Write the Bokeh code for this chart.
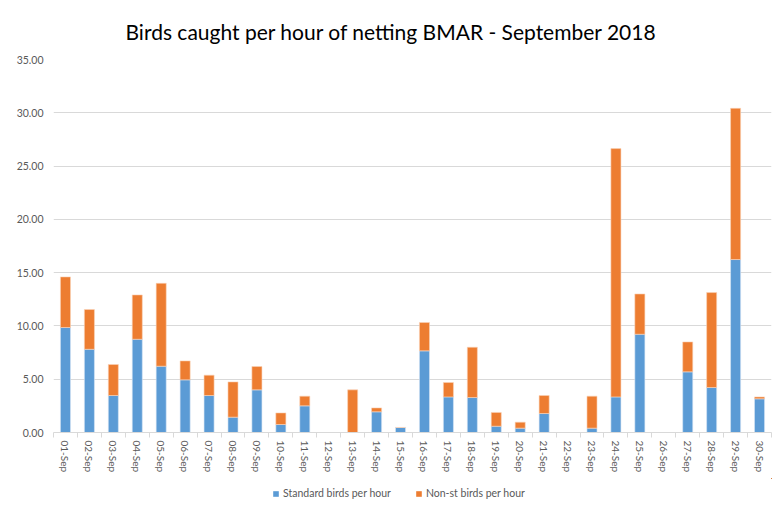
from bokeh.plotting import figure
from bokeh.layouts import column
from bokeh.models import (ColumnDataSource, FixedTicker, NumeralTickFormatter,
                          Legend, LegendItem, Range1d)
from bokeh.embed import file_html
from bokeh.resources import INLINE

days = ["01-Sep", "02-Sep", "03-Sep", "04-Sep", "05-Sep", "06-Sep", "07-Sep",
        "08-Sep", "09-Sep", "10-Sep", "11-Sep", "12-Sep", "13-Sep", "14-Sep",
        "15-Sep", "16-Sep", "17-Sep", "18-Sep", "19-Sep", "20-Sep", "21-Sep",
        "22-Sep", "23-Sep", "24-Sep", "25-Sep", "26-Sep", "27-Sep", "28-Sep",
        "29-Sep", "30-Sep"]
standard = [9.85, 7.81, 3.47, 8.75, 6.22, 4.94, 3.47, 1.44, 4.00, 0.75,
            2.50, 0.00, 0.00, 1.94, 0.47, 7.66, 3.34, 3.28, 0.59, 0.41,
            1.78, 0.00, 0.41, 3.34, 9.22, 0.00, 5.69, 4.22, 16.23, 3.16]
totals = [14.60, 11.54, 6.38, 12.91, 14.00, 6.72, 5.38, 4.75, 6.19, 1.84,
          3.41, 0.00, 4.00, 2.31, 0.47, 10.32, 4.69, 8.00, 1.88, 0.97,
          3.47, 0.00, 3.41, 26.64, 13.00, 0.00, 8.50, 13.13, 30.42, 3.34]
nonstandard = [round(t - s, 2) for t, s in zip(totals, standard)]
y_ticks = [0, 5, 10, 15, 20, 25, 30, 35]
series_names = ["Standard birds per hour", "Non-st birds per hour"]

BLUE = "#5B9BD5"
ORANGE = "#ED7D31"
GRID = "#D9D9D9"
TXT = "#595959"

pos = list(range(1, len(days) + 1))
src = ColumnDataSource(dict(x=pos, std=standard, non=nonstandard, total=totals))

p = figure(width=774, height=478, output_backend="svg", toolbar_location=None,
           x_range=Range1d(0.5, len(days) + 0.5), y_range=Range1d(0, 35),
           min_border_left=53, min_border_right=3, min_border_top=59,
           min_border_bottom=46)
p.outline_line_color = None

p.title.text = "Birds caught per hour of netting BMAR - September 2018"
p.title.text_font = "Lato"
p.title.text_font_size = "21px"
p.title.text_font_style = "normal"
p.title.text_color = "#000000"
p.title.align = "left"
p.title.offset = 72
p.title.standoff = 32

r1 = p.vbar(x="x", bottom=0, top="std", width=0.42, source=src,
            fill_color=BLUE, line_color="#D6E6F5", line_width=0.6)
r2 = p.vbar(x="x", bottom="std", top="total", width=0.42, source=src,
            fill_color=ORANGE, line_color="#FAD3B8", line_width=0.6)

p.xaxis.ticker = FixedTicker(ticks=pos, minor_ticks=[i + 0.5 for i in range(0, len(days) + 1)])
p.xaxis.major_label_overrides = {i: d for i, d in zip(pos, days)}
p.xaxis.major_label_orientation = "vertical"
p.xaxis.major_tick_line_color = None
p.xaxis.minor_tick_line_color = GRID
p.xaxis.minor_tick_in = 0
p.xaxis.minor_tick_out = 5
p.xaxis.axis_line_color = GRID
p.xaxis.major_label_text_font = "Lato"
p.xaxis.major_label_text_font_size = "10px"
p.xaxis.major_label_text_color = TXT
p.xaxis.major_label_standoff = 2
p.xgrid.grid_line_color = None

p.yaxis.ticker = FixedTicker(ticks=y_ticks)
p.yaxis.formatter = NumeralTickFormatter(format="0.00")
p.yaxis.axis_line_color = None
p.yaxis.major_tick_line_color = None
p.yaxis.minor_tick_line_color = None
p.yaxis.major_label_text_font = "Lato"
p.yaxis.major_label_text_font_size = "10.5px"
p.yaxis.major_label_text_color = TXT
p.yaxis.major_label_standoff = 4
p.ygrid.grid_line_color = GRID
p.ygrid.grid_line_width = 1

# legend strip below the chart (its frame is aligned with the chart's frame);
# the proxy bars lie outside this strip's visible range, only their legend swatches show
lg = figure(width=774, height=28, output_backend="svg", toolbar_location=None,
            min_border=0, x_range=Range1d(-10, -9), y_range=Range1d(-10, -9))
lg.axis.visible = False
lg.grid.visible = False
lg.outline_line_color = None
d1 = lg.vbar(x="x", top="std", width=0.42, source=src, fill_color=BLUE, line_color=None)
d2 = lg.vbar(x="x", bottom="std", top="total", width=0.42, source=src,
             fill_color=ORANGE, line_color=None)
legend = Legend(items=[LegendItem(label=series_names[0], renderers=[d1]),
                       LegendItem(label=series_names[1], renderers=[d2])],
                orientation="horizontal", location=(219, 7),
                border_line_color=None, background_fill_alpha=0,
                label_text_font="Lato", label_text_font_size="10.5px",
                label_text_color=TXT, glyph_width=7, glyph_height=7,
                spacing=24, padding=0, margin=0, label_standoff=4,
                label_height=12)
lg.add_layout(legend)

layout = column(p, lg, spacing=0)
open("out.html", "w").write(file_html(layout, INLINE))
